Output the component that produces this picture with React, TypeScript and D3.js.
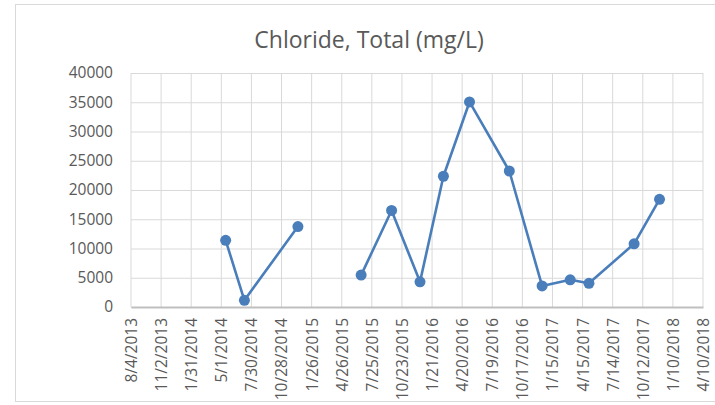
import { useEffect, useRef } from 'react'
import * as d3 from 'd3'

const W = 715, H = 405
const M = { top: 73, right: 12, bottom: 98, left: 131 }

// sample dates (null entry = break in the line)
const sampleDates = [
  '2014-05-14', '2014-07-09', '2014-12-16', null,
  '2015-06-23', '2015-09-22', '2015-12-16', '2016-02-24', '2016-05-12',
  '2016-09-08', '2016-12-15', '2017-03-09', '2017-05-04', '2017-09-16', '2017-12-01',
]
const chloride = [
  11400, 1150, 13750, null,
  5450, 16500, 4300, 22350, 35050,
  23250, 3600, 4650, 4050, 10800, 18400,
]
const yTicks = [0, 5000, 10000, 15000, 20000, 25000, 30000, 35000, 40000]
const xStart = '2013-08-04'
const xEnd = '2018-04-10'
const tickStepDays = 90

interface Pt { date: Date | null; value: number | null }

export default function App() {
  const svgRef = useRef<SVGSVGElement>(null)

  useEffect(() => {
    const svg = d3.select(svgRef.current!)
    svg.selectAll('*').remove()

    const iw = W - M.left - M.right
    const ih = H - M.top - M.bottom
    const font = '"Open Sans", sans-serif'
    const textCol = '#595959'

    const parse = d3.utcParse('%Y-%m-%d')
    const t0 = parse(xStart)!, t1 = parse(xEnd)!
    const data: Pt[] = sampleDates.map((d, i) => ({ date: d ? parse(d) : null, value: chloride[i] }))

    const x = d3.scaleUtc().domain([t0, t1]).range([0, iw])
    const y = d3.scaleLinear().domain([0, 40000]).range([ih, 0])

    const xTicks = d3.utcDay.range(t0, d3.utcDay.offset(t1, 1), tickStepDays)
    const fmt = (d: Date) => `${d.getUTCMonth() + 1}/${d.getUTCDate()}/${d.getUTCFullYear()}`

    // chart border
    svg.append('rect')
      .attr('x', 15.5).attr('y', 4.5).attr('width', W).attr('height', 397)
      .attr('fill', '#fff').attr('stroke', '#d9d9d9')

    svg.append('text')
      .attr('x', 369).attr('y', 48)
      .attr('text-anchor', 'middle')
      .attr('font-family', font).attr('font-size', 23)
      .attr('fill', textCol)
      .text('Chloride, Total (mg/L)')

    const g = svg.append('g').attr('transform', `translate(${M.left},${M.top})`)

    // horizontal grid + y labels
    g.append('g').call(
      d3.axisLeft(y).tickValues(yTicks).tickSize(-iw).tickPadding(18).tickFormat(d => `${d}`)
    )
      .call(s => s.select('.domain').remove())
      .call(s => s.selectAll('.tick line').attr('stroke', '#d9d9d9').attr('stroke-width', 1))
      .call(s => s.selectAll('.tick text').attr('font-size', 15.5).attr('font-family', font).attr('fill', textCol))

    // vertical grid
    g.append('g').selectAll('line').data(xTicks).join('line')
      .attr('x1', d => x(d)).attr('x2', d => x(d))
      .attr('y1', 0).attr('y2', ih)
      .attr('stroke', '#d9d9d9').attr('stroke-width', 1)

    // x axis
    g.append('g')
      .attr('transform', `translate(0,${ih})`)
      .call(d3.axisBottom(x).tickValues(xTicks).tickSize(0).tickFormat(d => fmt(d as Date)))
      .call(s => s.select('.domain').attr('stroke', '#bfbfbf').attr('stroke-width', 2))
      .call(s => s.selectAll('.tick text')
        .attr('font-size', 15.5).attr('font-family', font).attr('fill', textCol)
        .attr('transform', 'rotate(-90)')
        .attr('text-anchor', 'end')
        .attr('x', -11).attr('y', 0).attr('dy', '0.35em'))

    const line = d3.line<Pt>()
      .defined(d => d.date !== null && d.value !== null)
      .x(d => x(d.date!))
      .y(d => y(d.value!))

    g.append('path').datum(data)
      .attr('fill', 'none')
      .attr('stroke', '#4a7ebb')
      .attr('stroke-width', 2.6)
      .attr('stroke-linejoin', 'round')
      .attr('d', line)

    g.append('g').selectAll('circle')
      .data(data.filter(d => d.date && d.value !== null))
      .join('circle')
      .attr('cx', d => x(d.date!))
      .attr('cy', d => y(d.value!))
      .attr('r', 5.5)
      .attr('fill', '#4a7ebb')
  }, [])

  return (
    <svg ref={svgRef} width={W} height={H}
      style={{ position: 'absolute', left: 0, top: 0, display: 'block' }} />
  )
}
